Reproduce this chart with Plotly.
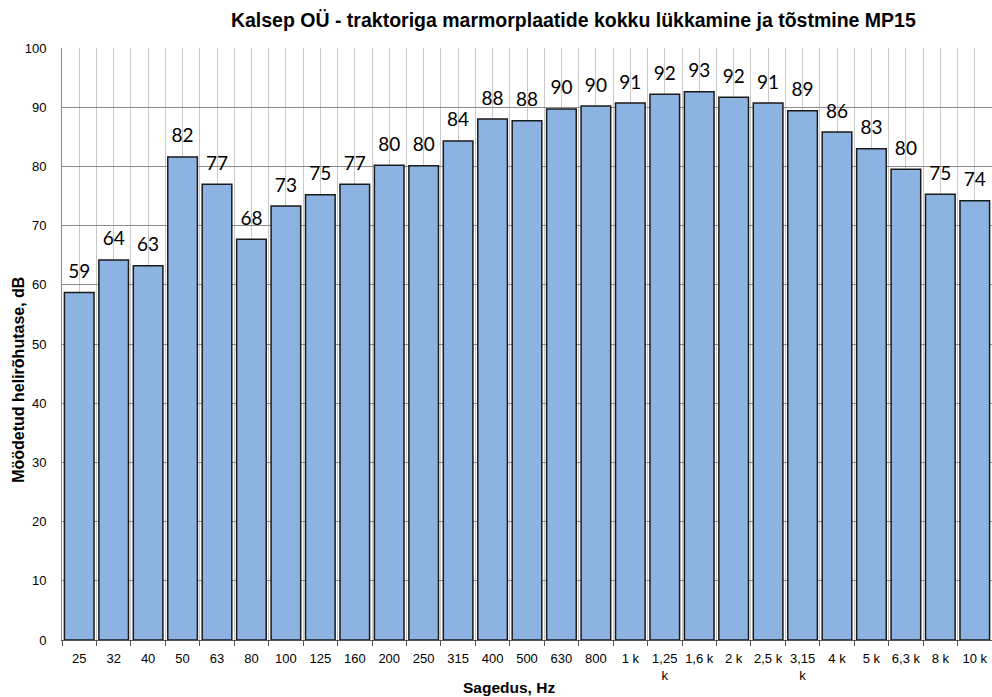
import plotly.graph_objects as go

categories = ['25', '32', '40', '50', '63', '80', '100', '125', '160', '200', '250',
              '315', '400', '500', '630', '800', '1 k', '1,25<br>k', '1,6 k', '2 k',
              '2,5 k', '3,15<br>k', '4 k', '5 k', '6,3 k', '8 k', '10 k']
levels = [58.7, 64.2, 63.2, 81.6, 77.0, 67.7, 73.3, 75.2, 77.0, 80.2, 80.1,
          84.3, 88.0, 87.7, 89.7, 90.2, 90.7, 92.2, 92.6, 91.7,
          90.7, 89.4, 85.8, 83.0, 79.5, 75.3, 74.2]
labels = [str(int(round(v))) for v in levels]
pos = list(range(len(categories)))

fig = go.Figure()
fig.add_trace(go.Bar(
    x=pos, y=levels,
    marker=dict(color='#8DB3E2', line=dict(color='#1a1a1a', width=1.5)),
    showlegend=False, hoverinfo='y',
))
# value labels above the bars
fig.add_trace(go.Scatter(
    x=pos, y=levels, text=labels, mode='markers+text', textposition='top center',
    marker=dict(size=14, opacity=0),
    textfont=dict(family='Lato, Open Sans, sans-serif', size=19, color='black'),
    cliponaxis=False, showlegend=False, hoverinfo='skip',
))

fig.update_layout(
    width=992, height=697,
    margin=dict(l=62, r=0, t=48, b=57),
    plot_bgcolor='white', paper_bgcolor='white',
    bargap=0.14,
    font=dict(family='Liberation Sans, Arial, sans-serif', size=13, color='black'),
    title=dict(
        text='<b>Kalsep OÜ - traktoriga marmorplaatide kokku lükkamine ja tõstmine MP15</b>',
        x=0.578, xanchor='center', y=0.971, yanchor='middle',
        font=dict(size=19.5, color='black'),
    ),
    annotations=[
        dict(text='<b>Möödetud helirõhutase, dB</b>', textangle=-90,
             xref='paper', yref='paper', x=-0.047, y=0.44,
             xanchor='center', yanchor='middle', showarrow=False,
             font=dict(size=16, color='black')),
        dict(text='<b>Sagedus, Hz</b>',
             xref='paper', yref='paper', x=0.481, y=-0.081,
             xanchor='center', yanchor='middle', showarrow=False,
             font=dict(size=15.5, color='black')),
    ],
)

fig.update_xaxes(
    range=[-0.5, 26.5], tickvals=pos, ticktext=categories, tickangle=0,
    ticks='', showgrid=True, gridcolor='#c8c8c8', gridwidth=1,
    minor=dict(tick0=-0.5, dtick=1, ticks='outside', ticklen=5, tickcolor='#555555',
               showgrid=True, gridcolor='#c8c8c8', gridwidth=1),
    showline=True, linecolor='#555555', linewidth=1, zeroline=False,
    tickfont=dict(size=13), automargin=False, ticklabelstandoff=6,
)
fig.update_yaxes(
    range=[0, 100], dtick=10, tick0=0,
    showgrid=True, gridcolor='#8c8c8c', gridwidth=1,
    showline=True, linecolor='#8c8c8c', zeroline=False,
    ticks='', tickfont=dict(size=13), automargin=False, ticklabelstandoff=12,
)

fig.write_html('out.html', config={'displayModeBar': False},
               post_script="document.body.style.margin='0px';")
